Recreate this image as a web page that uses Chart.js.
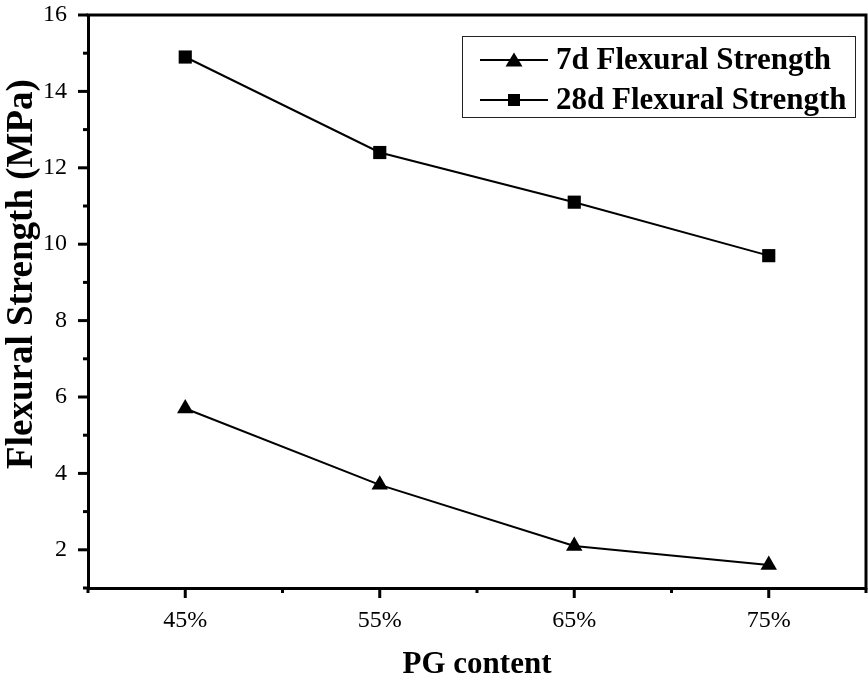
<!DOCTYPE html>
<html><head><meta charset="utf-8">
<script src="https://cdn.jsdelivr.net/npm/chart.js@4/dist/chart.umd.min.js"></script>
<style>html,body{margin:0;padding:0;background:#fff}#wrap{width:868px;height:684px}</style>
</head><body><div id="wrap"><canvas id="c"></canvas></div>
<script>
const categories = ['45%', '55%', '65%', '75%'];
const strength7d = [5.7, 3.7, 2.1, 1.6];
const strength28d = [14.9, 12.4, 11.1, 9.7];
const yTickLabels = [2, 4, 6, 8, 10, 12, 14, 16];
const yTitle = 'Flexural Strength (MPa)';

const FONT = "'Liberation Serif', 'Times New Roman', serif";

const framePlugin = {
  id: 'frame',
  afterDraw(chart) {
    const ctx = chart.ctx, a = chart.chartArea;
    const xs = chart.scales.x, ys = chart.scales.y;
    ctx.save();
    ctx.strokeStyle = '#000';
    ctx.lineCap = 'butt';
    ctx.lineWidth = 3;
    ctx.beginPath();
    ctx.moveTo(a.left - 1.5, a.top); ctx.lineTo(a.right, a.top); ctx.lineTo(a.right, a.bottom + 1.5);
    ctx.stroke();
    for (let v = ys.min; v <= ys.max + 1e-9; v += 1) {
      const p = ys.getPixelForValue(v);
      const major = yTickLabels.includes(v);
      ctx.beginPath(); ctx.moveTo(a.left, p); ctx.lineTo(a.left - (major ? 10 : 5), p); ctx.stroke();
    }
    for (let v = xs.min; v <= xs.max + 1e-9; v += 0.5) {
      const p = xs.getPixelForValue(v);
      const major = Number.isInteger(v);
      ctx.beginPath(); ctx.moveTo(p, a.bottom); ctx.lineTo(p, a.bottom + (major ? 10 : 5)); ctx.stroke();
    }
    // y-axis title
    ctx.save();
    ctx.translate(22, 274);
    ctx.rotate(-Math.PI / 2);
    ctx.font = 'bold 37px ' + FONT;
    ctx.fillStyle = '#000';
    ctx.textAlign = 'center';
    ctx.textBaseline = 'middle';
    ctx.fillText(yTitle, 0, 0);
    ctx.restore();
    // legend
    const lx = 462, ly = 36, lw = 393, lh = 81;
    ctx.lineWidth = 1;
    ctx.strokeStyle = '#222';
    ctx.strokeRect(lx + 0.5, ly + 0.5, lw, lh);
    ctx.font = 'bold 31px ' + FONT;
    ctx.fillStyle = '#000';
    ctx.textBaseline = 'middle';
    const rows = [60, 100];
    chart.data.datasets.forEach((ds, i) => {
      const y = rows[i];
      ctx.strokeStyle = '#000';
      ctx.lineWidth = 2;
      ctx.beginPath(); ctx.moveTo(480, y); ctx.lineTo(548, y); ctx.stroke();
      ctx.beginPath();
      if (ds.pointStyle === 'triangle') {
        ctx.moveTo(514, y - 7.5); ctx.lineTo(522.5, y + 6.5); ctx.lineTo(505.5, y + 6.5); ctx.closePath();
      } else {
        ctx.rect(508, y - 6, 12, 12);
      }
      ctx.fill();
      ctx.fillText(ds.label, 556, y + 1);
    });
    ctx.restore();
  }
};

new Chart(document.getElementById('c'), {
  type: 'line',
  data: {
    datasets: [
      { label: '7d Flexural Strength', data: strength7d.map((v, i) => ({x: i, y: v})),
        borderColor: '#000', backgroundColor: '#000', borderWidth: 2,
        pointStyle: 'triangle', pointRadius: 9.5, pointHoverRadius: 9.5, pointBorderWidth: 0 },
      { label: '28d Flexural Strength', data: strength28d.map((v, i) => ({x: i, y: v})),
        borderColor: '#000', backgroundColor: '#000', borderWidth: 2,
        pointStyle: 'rect', pointRadius: 9.3, pointHoverRadius: 9.3, pointBorderWidth: 0 }
    ]
  },
  plugins: [framePlugin],
  options: {
    responsive: true, maintainAspectRatio: false, animation: false,
    layout: { autoPadding: false, padding: { top: 15, right: 2, left: 0, bottom: 0 } },
    plugins: { legend: { display: false }, tooltip: { enabled: false } },
    scales: {
      x: {
        type: 'linear', min: -0.5, max: 3.5,
        afterFit(s) { s.height = 96; s.paddingLeft = 0; s.paddingRight = 0; },
        afterBuildTicks(s) { s.ticks = categories.map((c, i) => ({value: i})); },
        ticks: { callback: (v) => categories[v] ?? '', color: '#000', padding: 8, maxRotation: 0,
          font: { family: FONT, size: 24 } },
        grid: { display: true, drawOnChartArea: false, drawTicks: true, tickLength: 10, tickColor: 'rgba(0,0,0,0)' },
        border: { display: true, color: '#000', width: 3 },
        title: { display: true, text: 'PG content', color: '#000', padding: { top: 12, bottom: 0 },
          font: { family: FONT, size: 31, weight: 'bold' } }
      },
      y: {
        min: 1, max: 16,
        afterFit(s) { s.width = 88; s.paddingTop = 0; s.paddingBottom = 0; },
        afterBuildTicks(s) { s.ticks = yTickLabels.map(v => ({value: v})); },
        ticks: { color: '#000', padding: 11, font: { family: FONT, size: 24 } },
        grid: { display: true, drawOnChartArea: false, drawTicks: true, tickLength: 10, tickColor: 'rgba(0,0,0,0)' },
        border: { display: true, color: '#000', width: 3 },
        title: { display: false }
      }
    }
  }
});
</script></body></html>
